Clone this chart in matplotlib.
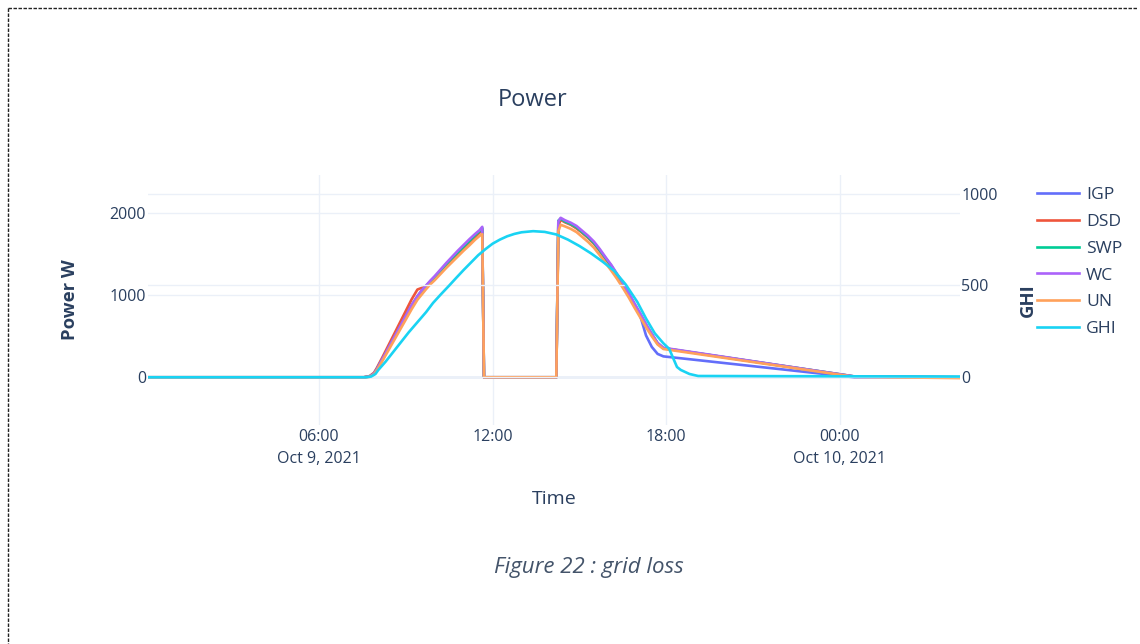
import matplotlib
matplotlib.use("Agg")
from matplotlib import pyplot as plt
from matplotlib.lines import Line2D
import numpy as np
import pandas as pd

plt.rcParams['font.family'] = ['Open Sans', 'DejaVu Sans']

# hours since midnight, Oct 9 2021
t_power = [0.09, 7.55, 7.75, 7.9, 8.0, 8.2, 8.4, 8.6, 8.8, 9.0, 9.2, 9.4, 9.55, 9.7,
           9.85, 10.0, 10.2, 10.4, 10.6, 10.8, 11.0, 11.2, 11.4, 11.55, 11.64, 11.70,
           14.20, 14.27, 14.35, 14.5, 14.7, 14.9, 15.1, 15.3, 15.5, 15.7, 15.9, 16.1,
           16.3, 16.5, 16.7, 16.9, 17.1, 17.3, 17.5, 17.7, 17.9, 24.5, 28.15]

igp = [0, 0, 8, 40, 95, 220, 350, 480, 610, 740, 870, 980, 1050, 1110, 1165, 1215,
       1295, 1375, 1450, 1520, 1590, 1660, 1730, 1780, 1815, 0, 0, 1870, 1930, 1900,
       1865, 1825, 1765, 1705, 1635, 1545, 1450, 1355, 1245, 1135, 1015, 890, 750,
       510, 370, 285, 255, 0, 0]
dsd = [0, 0, 15, 55, 115, 250, 390, 530, 670, 810, 950, 1070, 1090, 1100, 1160, 1215,
       1290, 1370, 1440, 1510, 1580, 1650, 1715, 1765, 1800, 0, 0, 1850, 1920, 1890,
       1860, 1815, 1760, 1700, 1630, 1540, 1440, 1350, 1240, 1130, 1010, 880, 760,
       630, 520, 410, 355, 10, 0]
swp = [0, 0, 10, 45, 100, 225, 355, 485, 615, 745, 875, 985, 1055, 1115, 1170, 1220,
       1300, 1380, 1455, 1525, 1595, 1665, 1735, 1785, 1820, 0, 0, 1910, 1935, 1900,
       1870, 1830, 1770, 1710, 1640, 1550, 1455, 1360, 1250, 1140, 1020, 895, 770,
       640, 525, 415, 355, 10, 0]
wc = [0, 0, 10, 45, 100, 230, 360, 490, 620, 750, 880, 990, 1060, 1120, 1180, 1235,
      1315, 1395, 1470, 1545, 1615, 1685, 1750, 1795, 1835, 0, 0, 1900, 1945, 1915,
      1885, 1845, 1785, 1725, 1655, 1565, 1465, 1370, 1260, 1150, 1030, 900, 780,
      650, 530, 420, 360, 10, 0]
un = [0, 0, 5, 35, 85, 205, 330, 455, 580, 705, 830, 945, 1010, 1075, 1135, 1185,
      1260, 1335, 1405, 1475, 1545, 1610, 1680, 1725, 1745, 0, 0, 1780, 1860, 1840,
      1810, 1770, 1710, 1650, 1580, 1490, 1395, 1300, 1200, 1090, 975, 850, 730,
      610, 500, 400, 345, 5, -10]

t_ghi = [0.09, 7.6, 7.8, 7.95, 8.05, 8.3, 8.6, 8.8, 9.1, 9.4, 9.7, 9.94, 10.2, 10.5,
         10.75, 11.0, 11.25, 11.5, 11.75, 12.0, 12.25, 12.5, 12.75, 13.0, 13.4, 13.8,
         14.2, 14.6, 15.0, 15.4, 15.8, 16.2, 16.6, 17.0, 17.3, 17.6, 17.9, 18.1,
         18.25, 18.37, 18.5, 18.8, 19.1, 28.15]
ghi = [0, 0, 4, 18, 40, 85, 145, 185, 245, 300, 355, 405, 450, 500, 543, 585, 625,
       665, 698, 728, 750, 768, 781, 790, 796, 792, 778, 750, 715, 675, 630, 580, 505,
       410, 320, 240, 185, 155, 100, 56, 40, 18, 7, 4]

names = ['IGP', 'DSD', 'SWP', 'WC', 'UN']
series = [igp, dsd, swp, wc, un]
colors = ['#636efa', '#EF553B', '#00cc96', '#ab63fa', '#FFA15A']
ghi_color = '#19d3f3'

tick_hours = [6, 12, 18, 24]
tick_labels = ['06:00\nOct 9, 2021', '12:00', '18:00', '00:00\nOct 10, 2021']

text_color = '#2a3f5f'
grid_color = '#EBF0F8'

day0 = pd.Timestamp('2021-10-09')
def to_time(hours):
    return day0 + pd.to_timedelta(np.asarray(hours, dtype=float), unit='h')

tp = to_time(t_power)
tg = to_time(t_ghi)

fig = plt.figure(figsize=(11.4, 6.44), dpi=100)
W, H = 1140, 644
ax = fig.add_axes([148 / W, 1 - 425 / H, 812 / W, 250 / H])
ax2 = ax.twinx()

lines = []
for name, vals, c in zip(names, series, colors):
    l, = ax.plot(tp, vals, color=c, lw=1.9, label=name, solid_joinstyle='round')
    lines.append(l)
lg, = ax2.plot(tg, ghi, color=ghi_color, lw=1.9, label='GHI', solid_joinstyle='round')
lines.append(lg)

ax.set_xlim(tp[0], tp[-1])
ax.set_ylim(-582, 2467)
ax2.set_ylim(-260, 1102)

ax.set_yticks([0, 1000, 2000])
ax2.set_yticks([0, 500, 1000])
ax.set_xticks(to_time(tick_hours))
ax.set_xticklabels(tick_labels, linespacing=1.45)

for a in (ax, ax2):
    for s in a.spines.values():
        s.set_visible(False)
    a.tick_params(length=0, labelsize=11.5, labelcolor=text_color)
ax.tick_params(axis='y', pad=1.5)
ax.tick_params(axis='x', pad=3)
ax2.tick_params(axis='y', pad=1)

ax.set_axisbelow(True)
ax.grid(True, color=grid_color, lw=1)
ax2.grid(True, axis='y', color=grid_color, lw=1)
ax2.set_axisbelow(True)
ax.axhline(0, color=grid_color, lw=2, zorder=0.5)

ax.set_xlabel('Time', fontsize=14, color=text_color, labelpad=17)
ax.set_ylabel('Power W', fontsize=13.3, color=text_color, fontweight='bold')
ax.yaxis.set_label_coords(-0.085, 0.5)
ax2.set_ylabel('GHI', fontsize=13.3, color=text_color, fontweight='bold')
ax2.yaxis.set_label_coords(1.073, 0.5)

fig.text(533 / W, 1 - 100 / H, 'Power', ha='center', va='center',
         fontsize=17, color=text_color)

leg = fig.legend(handles=lines, loc='upper left',
                 bbox_to_anchor=(1037 / W, 1 - 187 / H), frameon=False,
                 fontsize=12.6, handlelength=2.4, handletextpad=0.4,
                 labelspacing=0.6, borderpad=0, borderaxespad=0)
for t in leg.get_texts():
    t.set_color(text_color)

fig.text(589 / W, 1 - 567 / H, 'Figure 22 : grid loss', ha='center', va='center',
         fontsize=16, style='italic', color='#44546A')

# dashed page frame
fig.add_artist(Line2D([8 / W, 1137 / W], [1 - 8 / H, 1 - 8 / H], color='#222222',
                      lw=1, dashes=(2.5, 1.1), transform=fig.transFigure))
fig.add_artist(Line2D([8 / W, 8 / W], [1 - 8 / H, 0], color='#222222',
                      lw=1, dashes=(2.5, 1.1), transform=fig.transFigure))

fig.savefig('out.png', dpi=100)
